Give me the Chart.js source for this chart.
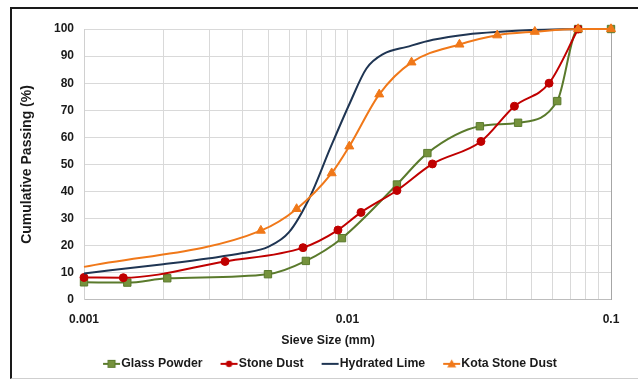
<!DOCTYPE html>
<html><head><meta charset="utf-8">
<script src="https://cdn.jsdelivr.net/npm/chart.js@4.4.1/dist/chart.umd.min.js"></script>
<style>
html,body{margin:0;padding:0;background:#fff;}
#wrap{position:relative;width:638px;height:380px;overflow:hidden;}
canvas{position:absolute;left:0;top:0;}
#frame{position:absolute;left:10px;top:7px;width:628px;height:372px;box-sizing:border-box;border-left:2px solid #1a1a1a;border-top:2px solid #1a1a1a;border-bottom:1px solid #cfcfcf;pointer-events:none;}
</style></head><body>
<div id="wrap"><canvas id="c" width="638" height="380"></canvas><div id="frame"></div></div>
<script>
// ---- data ----
const seriesNames = ['Glass Powder', 'Stone Dust', 'Hydrated Lime', 'Kota Stone Dust'];

const glassX = [0.001, 0.00146, 0.00207, 0.00499, 0.00695, 0.00953, 0.0154, 0.0201, 0.0318, 0.0444, 0.0625, 0.075, 0.1];
const glassY = [6.5, 6.4, 8.0, 9.5, 14.4, 22.8, 42.6, 54.2, 64.1, 65.4, 73.4, 100, 100];

const stoneX = [0.001, 0.00141, 0.00343, 0.00678, 0.0092, 0.01125, 0.0154, 0.021, 0.0321, 0.043, 0.0582, 0.075];
const stoneY = [8.3, 8.2, 14.2, 19.3, 25.8, 32.3, 40.4, 50.2, 58.5, 71.5, 80.0, 100];

const limeX = [0.001, 0.002, 0.003, 0.004, 0.005, 0.006, 0.0072, 0.0086, 0.0102, 0.0118, 0.0137, 0.0168, 0.0211, 0.0284, 0.038, 0.05, 0.075];
const limeY = [9.8, 13.2, 15.4, 17.3, 19.6, 25.0, 38.0, 56.0, 72.6, 85.4, 90.8, 93.4, 96.0, 98.0, 99.0, 99.6, 100];

const kotaX = [0.001, 0.00469, 0.00641, 0.00871, 0.01016, 0.0132, 0.0175, 0.0266, 0.037, 0.0514, 0.075, 0.1];
const kotaY = [12.2, 25.6, 33.6, 46.8, 56.7, 75.9, 87.7, 94.3, 97.7, 99.0, 100, 100];

const xTickLabels = ['0.001', '0.01', '0.1'];
const yTickLabels = ['0', '10', '20', '30', '40', '50', '60', '70', '80', '90', '100'];
const xTitle = 'Sieve Size (mm)';
const yTitle = 'Cumulative Passing (%)';

// ---- styling ----
const FONT = '"Liberation Sans", Arial, sans-serif';
const TXT = '#1a1a1a';
const colors = {
  glassLine: '#5a7a2c', glassFill: '#75923c',
  stone: '#c00000',
  lime: '#1f3553',
  kota: '#f07819'
};

function pts(xs, ys) { return xs.map((x, i) => ({x: x, y: ys[i]})); }

// legend icon: line + marker, drawn to the right of a transparent lead-in
function legendIcon(kind, line, fill) {
  const c = document.createElement('canvas');
  c.width = 28; c.height = 12;
  const g = c.getContext('2d');
  g.strokeStyle = line; g.lineWidth = 2;
  g.beginPath(); g.moveTo(10, 6); g.lineTo(27, 6); g.stroke();
  const cx = 18.5, cy = 6;
  g.fillStyle = fill; g.strokeStyle = line; g.lineWidth = 1;
  if (kind === 'rect') { g.fillRect(cx - 3.5, cy - 3.5, 7, 7); g.strokeRect(cx - 3.5, cy - 3.5, 7, 7); }
  else if (kind === 'circle') { g.beginPath(); g.arc(cx, cy, 3.2, 0, Math.PI * 2); g.fill(); }
  else if (kind === 'triangle') { g.beginPath(); g.moveTo(cx, cy - 4.5); g.lineTo(cx + 4.5, cy + 3.5); g.lineTo(cx - 4.5, cy + 3.5); g.closePath(); g.fill(); }
  return c;
}
const icons = [
  legendIcon('rect', colors.glassLine, colors.glassFill),
  legendIcon('circle', colors.stone, colors.stone),
  legendIcon('none', colors.lime, colors.lime),
  legendIcon('triangle', colors.kota, colors.kota)
];

const kotaRadius = kotaX.map((x, i) => i === 0 ? 0 : 5.2);

new Chart(document.getElementById('c'), {
  type: 'line',
  data: {
    datasets: [
      { label: seriesNames[0], data: pts(glassX, glassY), borderColor: colors.glassLine, backgroundColor: colors.glassFill,
        pointStyle: 'rect', pointRadius: 5.2, pointBackgroundColor: colors.glassFill, pointBorderColor: colors.glassLine, pointBorderWidth: 1,
        borderWidth: 2, cubicInterpolationMode: 'monotone', order: 3, clip: false },
      { label: seriesNames[1], data: pts(stoneX, stoneY), borderColor: colors.stone, backgroundColor: colors.stone,
        pointStyle: 'circle', pointRadius: 4, pointBackgroundColor: colors.stone, pointBorderColor: colors.stone, pointBorderWidth: 1,
        borderWidth: 2, cubicInterpolationMode: 'monotone', order: 2, clip: false },
      { label: seriesNames[2], data: pts(limeX, limeY), borderColor: colors.lime, backgroundColor: colors.lime,
        pointRadius: 0, borderWidth: 2, cubicInterpolationMode: 'monotone', order: 1, clip: false },
      { label: seriesNames[3], data: pts(kotaX, kotaY), borderColor: colors.kota, backgroundColor: colors.kota,
        pointStyle: 'triangle', pointRadius: kotaRadius, pointBackgroundColor: colors.kota, pointBorderColor: colors.kota, pointBorderWidth: 1,
        borderWidth: 2, cubicInterpolationMode: 'monotone', order: 0, clip: false }
    ]
  },
  options: {
    responsive: false,
    animation: false,
    events: [],
    layout: { padding: { left: 18, right: 0, top: 29, bottom: 0 } },
    scales: {
      x: {
        type: 'logarithmic', position: 'bottom', min: 0.001, max: 0.1,
        grid: { color: '#d9d9d9', lineWidth: 1, drawTicks: false },
        border: { display: true, color: '#bdbdbd', width: 1 },
        ticks: {
          autoSkip: false, maxRotation: 0, minRotation: 0, padding: 13,
          color: TXT, font: { family: FONT, size: 12, weight: 'bold' },
          callback: function (v) {
            const e = Math.log10(v);
            if (Math.abs(e - Math.round(e)) < 1e-6) {
              const s = xTickLabels.find(l => Math.abs(parseFloat(l) - v) < 1e-9);
              return s || '';
            }
            return '';
          }
        },
        afterFit: s => { s.height = 25.5; }
      },
      y: {
        type: 'linear', position: 'left', min: 0, max: 100,
        grid: { color: '#d9d9d9', lineWidth: 1, drawTicks: false },
        border: { display: true, color: '#d0d0d0', width: 1 },
        ticks: {
          stepSize: 10, padding: 10, color: TXT, font: { family: FONT, size: 12, weight: 'bold' },
          callback: function (v) { return yTickLabels[Math.round(v / 10)]; }
        },
        title: { display: true, text: yTitle, color: TXT, font: { family: FONT, size: 14, weight: 'bold' }, padding: { top: 1, bottom: 0 } },
        afterFit: s => { s.width = 66; }
      },
      y2: {
        type: 'linear', position: 'right', min: 0, max: 100,
        grid: { display: false, drawTicks: false },
        border: { display: true, color: '#a6a6a6', width: 1 },
        ticks: { display: false },
        afterFit: s => { s.width = 27; }
      }
    },
    plugins: {
      tooltip: { enabled: false },
      title: {
        display: true, text: xTitle, position: 'bottom', weight: 500,
        color: TXT, font: { family: FONT, size: 12.3, weight: 'bold' },
        padding: { top: 7.5, bottom: -4 }
      },
      legend: {
        display: true, position: 'bottom', weight: 1000,
        labels: {
          usePointStyle: true, pointStyleWidth: 16, padding: 14,
          color: TXT, font: { family: FONT, size: 12.3, weight: 'bold' },
          sort: (a, b) => a.datasetIndex - b.datasetIndex,
          generateLabels: function (chart) {
            const items = Chart.defaults.plugins.legend.labels.generateLabels(chart);
            items.forEach(it => { it.pointStyle = icons[it.datasetIndex]; });
            return items;
          }
        }
      }
    }
  }
});
</script>
</body></html>
